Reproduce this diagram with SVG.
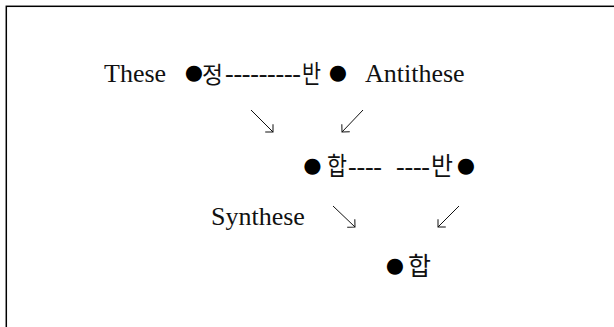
<svg xmlns="http://www.w3.org/2000/svg" width="614" height="327" viewBox="0 0 614 327">
  <defs>
    <style>
      .lat { font-family: "Liberation Serif", "Times New Roman", serif; font-size: 26px; fill: #111; }
      .kor { font-family: "Noto Sans CJK KR", "Noto Sans", sans-serif; font-size: 25px; fill: #111; }
      .dot { font-family: "DejaVu Sans", sans-serif; font-size: 21px; fill: #000; text-anchor: middle; }
      .dash { font-family: "Liberation Serif", "Times New Roman", serif; font-size: 26px; fill: #111; }
      .arrow { stroke: #111; stroke-width: 1; fill: none; marker-end: url(#head); }
    </style>
    <marker id="head" viewBox="-8 -8 10 16" markerWidth="10" markerHeight="16" refX="0" refY="0" orient="auto" markerUnits="userSpaceOnUse">
      <path d="M-5.5,-5.5 L0,0 L-5.5,5.5" fill="none" stroke="#111" stroke-width="1"/>
    </marker>
  </defs>

  <rect width="614" height="327" fill="#fff"/>
  <!-- frame: only its top and left edges fall inside the page -->
  <rect x="6.3" y="6.3" width="640" height="340" fill="none" stroke="#000" stroke-width="1.5"/>

  <g id="these"><text class="lat" x="104" y="82">These</text></g>
  <g id="jeong"><text class="dot" x="194" y="79">●</text><text class="kor" x="202" y="83" style="font-size:23px" textLength="21" lengthAdjust="spacingAndGlyphs">정</text></g>
  <g id="ban-top"><text class="kor" x="302" y="83" textLength="19" lengthAdjust="spacingAndGlyphs">반</text><text class="dot" x="338" y="79">●</text></g>
  <g id="antithese"><text class="lat" x="365" y="82">Antithese</text></g>

  <g id="hap-mid"><text class="dot" x="312.5" y="172">●</text><text class="kor" x="327" y="175" textLength="20" lengthAdjust="spacingAndGlyphs">합</text></g>
  <g id="ban-mid"><text class="kor" x="431" y="175" textLength="22" lengthAdjust="spacingAndGlyphs">반</text><text class="dot" x="466" y="172">●</text></g>

  <g id="synthese"><text class="lat" x="211" y="225">Synthese</text></g>
  <g id="hap-bottom"><text class="dot" x="395" y="272">●</text><text class="kor" x="408" y="275" textLength="23" lengthAdjust="spacingAndGlyphs">합</text></g>

  <g id="connectors">
    <text class="dash" x="225" y="82" textLength="76" lengthAdjust="spacing">---------</text>
    <text class="dash" x="348" y="175" textLength="34" lengthAdjust="spacing">----</text>
    <text class="dash" x="396" y="175" textLength="34" lengthAdjust="spacing">----</text>
    <line class="arrow" x1="251" y1="110" x2="273" y2="132"/>
    <line class="arrow" x1="363" y1="110" x2="342" y2="132"/>
    <line class="arrow" x1="333" y1="206" x2="355" y2="227"/>
    <line class="arrow" x1="459" y1="206" x2="438" y2="227"/>
  </g>
</svg>
